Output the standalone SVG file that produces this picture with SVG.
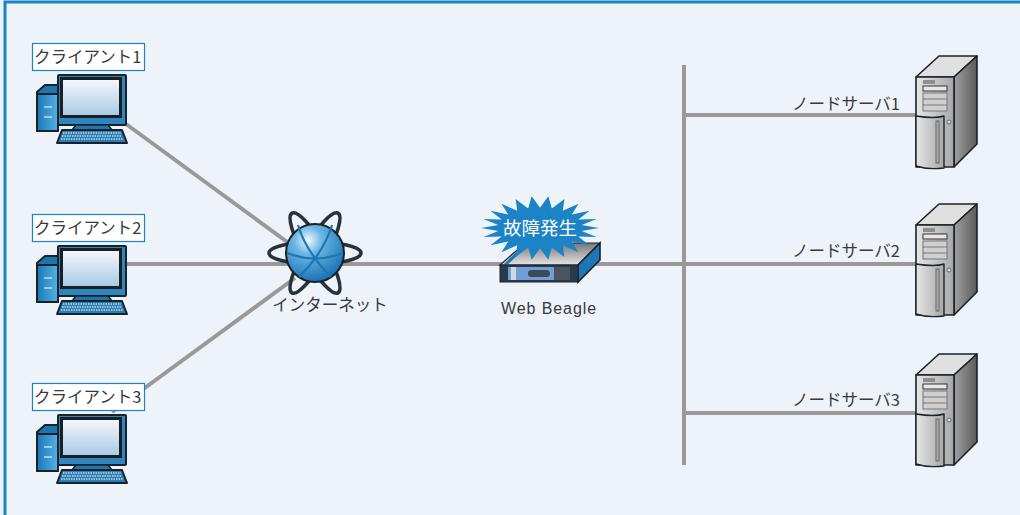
<svg xmlns="http://www.w3.org/2000/svg" xmlns:xlink="http://www.w3.org/1999/xlink" width="1020" height="515" viewBox="0 0 1020 515">
<style>
.t{font-family:"Noto Sans CJK JP","Liberation Sans",sans-serif;font-size:16.500px;fill:#3a3a3a}
.lb{fill:#fff;stroke:#1c84c6;stroke-width:1.2}
.c{stroke:#999;stroke-width:4;fill:none}
.k{stroke:#1a2229;stroke-linejoin:round}
.o{fill:none;stroke:#2a3138;stroke-width:3.600}
</style>
<defs>
<linearGradient id="scr" x1="0" y1="0" x2="0" y2="1"><stop offset="0" stop-color="#f4f7fb"/><stop offset="1" stop-color="#a9cbe6"/></linearGradient>
<linearGradient id="blu" x1="0" y1="0" x2="1" y2="0"><stop offset="0" stop-color="#1a7ab8"/><stop offset="1" stop-color="#55b0e2"/></linearGradient>
<linearGradient id="sf" x1="0" y1="0" x2="1" y2="0"><stop offset="0" stop-color="#e6e6e6"/><stop offset="1" stop-color="#a8a8a8"/></linearGradient>
<linearGradient id="ss" x1="0" y1="0" x2="1" y2="0"><stop offset="0" stop-color="#a0a0a0"/><stop offset="1" stop-color="#5a5a5a"/></linearGradient>
<linearGradient id="st" x1="0" y1="0" x2="0" y2="1"><stop offset="0" stop-color="#777"/><stop offset="1" stop-color="#e4e4e4"/></linearGradient>
<radialGradient id="gl" cx="0.38" cy="0.28" r="0.8"><stop offset="0" stop-color="#f2f8fc"/><stop offset="0.3" stop-color="#6cb6e4"/><stop offset="1" stop-color="#0c68ac"/></radialGradient>
<g id="pc">
<path class="k" stroke-width="2" fill="#1f75ad" d="M37 92L45 85H58V131H37Z"/>
<rect x="37" y="94" width="21" height="37" fill="url(#blu)" class="k" stroke-width="2"/>
<path d="M44 107H52M44 117H52" stroke="#fff" stroke-width="1.2"/>
<rect x="58" y="75" width="68" height="50" rx="1" fill="#2f86bf" class="k" stroke-width="2"/>
<rect x="60" y="77" width="62" height="41" fill="#1a1f24"/>
<rect x="63" y="80" width="56" height="35" fill="url(#scr)"/>
<path class="k" stroke-width="1.5" fill="#1f75ad" d="M76 125H108L112 130H72Z"/>
<path class="k" stroke-width="2" fill="#257fb8" d="M62 130H122L127 143H57Z"/>
<path d="M63 133H121M62 136H122M61 139H123" stroke="#cdd3d8" stroke-width="1.4" stroke-dasharray="1.5 1"/>
</g>
<g id="srv">
<path class="k" stroke-width="1.6" fill="#e0e0e0" d="M916 77L939 56H977L954 77Z"/>
<path class="k" stroke-width="1.6" fill="url(#ss)" d="M954 77L977 56V144L954 167Z"/>
<path class="k" stroke-width="1.6" fill="url(#sf)" d="M916 77H954V167H916Z"/>
<path class="k" stroke-width="1.4" fill="url(#sf)" d="M916 116Q935 119 944 116V168Q928 170 916 166Z"/>
<rect x="923" y="80" width="12" height="4" fill="#8f8f8f"/>
<rect x="923" y="86" width="24" height="5" fill="#e8e8e8" stroke="#333"/>
<rect x="923" y="93" width="24" height="18" fill="#d0d0d0" stroke="#777"/>
<path d="M923 99H947M923 105H947" stroke="#777"/>
<rect x="936" y="121" width="3" height="42" fill="#aaa" stroke="#666"/>
<circle cx="949" cy="122" r="2" fill="#ddd" stroke="#666"/>
</g>
</defs>
<rect width="1020" height="515" fill="#eef3fa"/>
<path d="M5 515V2H1020" fill="none" stroke="#1c84c6" stroke-width="3"/>
<g id="connectors">
<path class="c" d="M126 124L290 244"/>
<path class="c" d="M126 264H505"/>
<path class="c" d="M112 412L295 278"/>
<path class="c" d="M590 264H684"/>
<path class="c" d="M684 65V465"/>
<path class="c" d="M684 115H918"/>
<path class="c" d="M684 264H918"/>
<path class="c" d="M684 413H918"/>
</g>
<g id="client1"><use xlink:href="#pc" href="#pc"/><rect class="lb" x="32.500" y="43.500" width="112" height="27"/><text class="t" x="34" y="63">クライアント1</text></g>
<g id="client2"><use xlink:href="#pc" href="#pc" y="171"/><rect class="lb" x="32.500" y="214.500" width="112" height="27"/><text class="t" x="34" y="234">クライアント2</text></g>
<g id="client3"><use xlink:href="#pc" href="#pc" y="340"/><rect class="lb" x="32.500" y="383.500" width="112" height="27"/><text class="t" x="34" y="403">クライアント3</text></g>
<g id="internet">
<ellipse class="o" cx="315" cy="253" rx="46" ry="11"/>
<ellipse class="o" cx="315" cy="253" rx="46" ry="11" transform="rotate(60 315 253)"/>
<ellipse class="o" cx="315" cy="253" rx="46" ry="11" transform="rotate(-60 315 253)"/>
<circle cx="315" cy="253" r="29" fill="url(#gl)" stroke="#1a2229" stroke-width="2"/>
<g fill="none" stroke="#1c78b4" stroke-width="2.200"><path d="M287 253Q315 264 343 253"/><path d="M298 225Q306 252 331 277"/><path d="M332 225Q324 252 299 277"/></g>
<text class="t" x="330" y="311" text-anchor="middle">インターネット</text>
</g>
<g id="webbeagle">
<path d="M500 265L525 243H600L578 265Z" fill="url(#st)" stroke="#1a2229" stroke-width="1.2"/>
<path d="M578 265L600 243V260L578 282Z" fill="#1c78b4" stroke="#1a2229" stroke-width="1.6"/>
<path d="M505 265L524 247" stroke="#1c78b4" stroke-width="3"/>
<rect x="500" y="265" width="78" height="17" fill="#2b3a48" stroke="#1a2229"/>
<rect x="508" y="267" width="62" height="13" fill="#6f9fd4"/>
<rect x="528" y="270" width="22" height="7" rx="3.500" fill="#3d4a58"/>
<rect x="554" y="267" width="16" height="13" fill="#4a5560"/>
<rect x="511" y="267" width="5" height="13" fill="#cfd9e6"/>
<polygon fill="#1c84c6" transform="translate(540 228) scale(.98 .97)" points="60,0 42.600,3 57.600,9.300 39.100,8.700 50.500,17.800 32.500,13.800 39.300,24.900 23.200,17.700 24.900,30 12.100,20.100 8.500,32.700 0,21 -8.500,32.700 -12.100,20.100 -24.900,30 -23.200,17.700 -39.300,24.900 -32.500,13.800 -50.500,17.800 -39.100,8.700 -57.600,9.300 -42.600,3 -60,0 -42.600,-3 -57.600,-9.300 -39.100,-8.700 -50.500,-17.800 -32.500,-13.800 -39.300,-24.900 -23.200,-17.700 -24.900,-30 -12.100,-20.100 -8.500,-32.700 0,-21 8.500,-32.700 12.100,-20.100 24.900,-30 23.200,-17.700 39.300,-24.900 32.500,-13.800 50.500,-17.800 39.100,-8.700 57.600,-9.300 42.600,-3"/>
<text x="540" y="235" text-anchor="middle" font-family="'Noto Sans CJK JP',sans-serif" font-size="18.500" fill="#fff">故障発生</text>
<text x="549" y="314" text-anchor="middle" font-family="'Liberation Sans',sans-serif" font-size="16" letter-spacing=".9" fill="#3a3a3a">Web Beagle</text>
</g>
<g id="server1"><use xlink:href="#srv" href="#srv"/><text class="t" x="792" y="110">ノードサーバ1</text></g>
<g id="server2"><use xlink:href="#srv" href="#srv" y="148"/><text class="t" x="792" y="257">ノードサーバ2</text></g>
<g id="server3"><use xlink:href="#srv" href="#srv" y="298"/><text class="t" x="792" y="406">ノードサーバ3</text></g>
</svg>
